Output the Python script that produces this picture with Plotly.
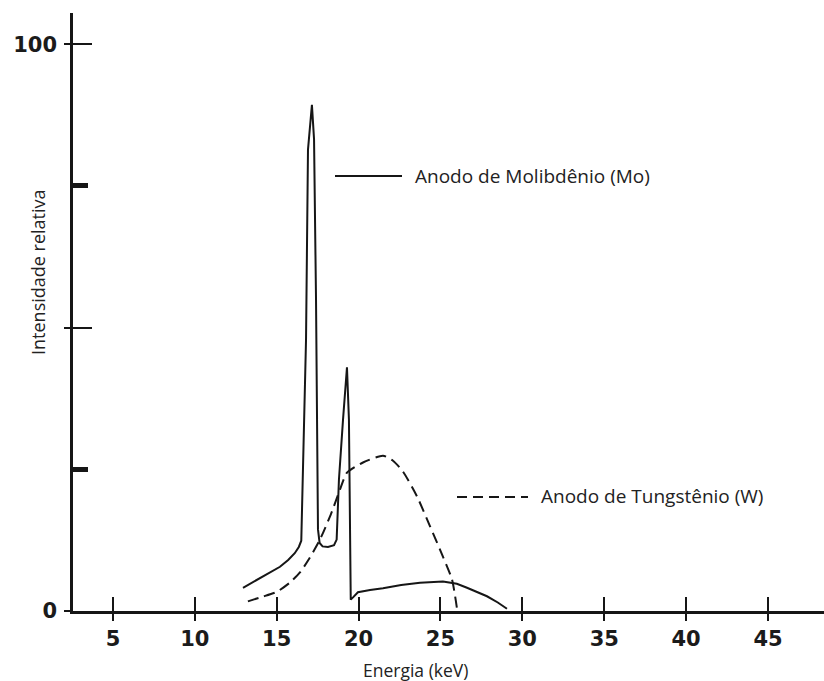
import plotly.graph_objects as go

# Emission spectra: molybdenum vs tungsten anode
mo_energy = [12.94, 13.5, 14.0, 14.6, 15.2, 15.7, 16.1, 16.35, 16.5,
             16.79, 16.91, 17.15, 17.28, 17.40, 17.52, 17.62, 17.80, 18.13,
             18.50, 18.66, 18.80, 19.05, 19.29, 19.41, 19.52, 19.66, 19.96,
             20.7, 21.49, 22.6, 23.75, 25.15, 26.0, 26.62, 27.3, 27.84,
             28.5, 29.06]
mo_intensity = [4.1, 5.0, 5.9, 6.8, 7.8, 9.0, 10.2, 11.3, 12.4,
                47.9, 81.4, 89.3, 83.2, 54.9, 14.4, 12.0, 11.4, 11.3,
                11.6, 12.6, 23.2, 33.8, 43.0, 33.8, 2.0, 2.4, 3.3,
                3.7, 4.0, 4.6, 5.0, 5.2, 4.8, 4.1, 3.3, 2.6,
                1.5, 0.4]

w_energy = [13.24, 14.1, 15.02, 15.8, 16.42, 17.0, 17.64, 18.3, 18.86,
            19.29, 20.27, 21.49, 22.1, 22.71, 23.57, 24.37, 25.15, 25.7, 26.0]
w_intensity = [1.7, 2.5, 3.4, 5.0, 6.8, 9.3, 12.6, 17.0, 21.4,
               24.4, 26.2, 27.4, 26.5, 24.6, 20.2, 14.9, 9.6, 5.6, 0.6]

x_ticks = [5, 10, 15, 20, 25, 30, 35, 40, 45]
y_label_ticks = [0, 50, 100]
y_label_text = ["0", "", "100"]
y_cross_ticks = [50, 100]
y_bold_ticks = [25, 75]

mo_label = "Anodo de Molibdênio (Mo)"
w_label = "Anodo de Tungstênio (W)"
x_title = "Energia (keV)"
y_title = "Intensidade relativa"

W, H = 824, 681
L, R, T, B = 73, 0, 13, 70
X_RANGE = [2.56, 48.42]
Y_RANGE = [0, 105.5]
INK = "#161616"


def px(x):
    return (x - L) / (W - L - R)


def py(y):
    return (H - B - y) / (H - T - B)


fig = go.Figure()
fig.add_trace(go.Scatter(x=mo_energy, y=mo_intensity, mode="lines",
                         line=dict(color=INK, width=2), name=mo_label,
                         showlegend=False))
fig.add_trace(go.Scatter(x=w_energy, y=w_intensity, mode="lines",
                         line=dict(color=INK, width=2, dash="11px,6px",
                                   shape="spline", smoothing=0.6),
                         name=w_label, showlegend=False))

# empty traces so the extra tick-only axes get drawn
for xa, ya in [("x2", "y"), ("x", "y2"), ("x", "y3")]:
    fig.add_trace(go.Scatter(x=[None], y=[None], xaxis=xa, yaxis=ya,
                             mode="lines", showlegend=False, hoverinfo="skip"))

tick_font = dict(family="DejaVu Sans, sans-serif", size=21, color="#1b1b1b",
                 weight="bold")

fig.update_layout(
    width=W, height=H,
    margin=dict(l=L, r=R, t=T, b=B),
    paper_bgcolor="white", plot_bgcolor="white",
    xaxis=dict(range=X_RANGE, showgrid=False, zeroline=False,
               showline=True, linecolor=INK, linewidth=2.5,
               tickmode="array", tickvals=x_ticks, ticks="outside",
               ticklen=7, tickwidth=2, tickcolor=INK,
               tickfont=tick_font, ticklabelstandoff=0),
    xaxis2=dict(range=X_RANGE, overlaying="x", anchor="y", side="bottom",
                showgrid=False, zeroline=False, showline=False,
                tickmode="array", tickvals=x_ticks, ticks="inside",
                ticklen=14, tickwidth=2, tickcolor=INK, showticklabels=False),
    yaxis=dict(range=Y_RANGE, showgrid=False, zeroline=False,
               showline=True, linecolor=INK, linewidth=2.5,
               tickmode="array", tickvals=y_label_ticks, ticktext=y_label_text,
               ticks="outside", ticklen=6, tickwidth=2, tickcolor=INK,
               tickfont=tick_font, ticklabelstandoff=3),
    yaxis2=dict(range=Y_RANGE, overlaying="y", anchor="x", side="left",
                showgrid=False, zeroline=False, showline=False,
                tickmode="array", tickvals=y_cross_ticks, ticks="inside",
                ticklen=19, tickwidth=2, tickcolor=INK, showticklabels=False),
    yaxis3=dict(range=Y_RANGE, overlaying="y", anchor="x", side="left",
                showgrid=False, zeroline=False, showline=False,
                tickmode="array", tickvals=y_bold_ticks, ticks="inside",
                ticklen=15, tickwidth=5, tickcolor=INK, showticklabels=False),
)

label_font = dict(family="Open Sans, sans-serif", size=19, color="#222222")

# key lines beside the two series labels
fig.add_shape(type="line", xref="paper", yref="paper",
              x0=px(335), x1=px(402), y0=py(176), y1=py(176),
              line=dict(color=INK, width=1.8))
fig.add_shape(type="line", xref="paper", yref="paper",
              x0=px(457), x1=px(528), y0=py(497), y1=py(497),
              line=dict(color=INK, width=1.8, dash="10px,6px"))

fig.add_annotation(xref="paper", yref="paper", x=px(413), y=py(176),
                   text=mo_label, showarrow=False, xanchor="left",
                   yanchor="middle", font=label_font)
fig.add_annotation(xref="paper", yref="paper", x=px(539), y=py(496),
                   text=w_label, showarrow=False, xanchor="left",
                   yanchor="middle", font=label_font)
fig.add_annotation(xref="paper", yref="paper", x=px(415), y=py(670),
                   text=x_title, showarrow=False, xanchor="center",
                   yanchor="middle", font=dict(label_font, size=17.5))
fig.add_annotation(xref="paper", yref="paper", x=px(38), y=py(272),
                   text=y_title, showarrow=False, textangle=-90,
                   xanchor="center", yanchor="middle",
                   font=dict(label_font, size=18))

fig.write_html("out.html")
